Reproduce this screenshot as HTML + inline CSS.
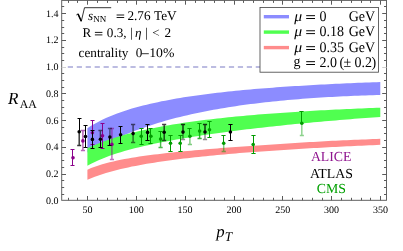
<!DOCTYPE html>
<html><head><meta charset="utf-8"><title>RAA</title>
<style>
html,body{margin:0;padding:0;background:#fff;}
body{width:403px;height:251px;overflow:hidden;}
svg{display:block;will-change:transform;font-family:"Liberation Serif",serif;text-rendering:geometricPrecision;}
.tl{font-size:10px;fill:#000;}
.t{font-size:13.2px;fill:#000;}
.lg{font-size:14.0px;fill:#000;}
i,.it{font-style:italic;}
</style></head><body>
<svg width="403" height="251" viewBox="0 0 403 251">
<rect x="0" y="0" width="403" height="251" fill="#fff"/>
<!-- bands -->
<path d="M87.40,128.18 L91.11,125.81 L94.82,123.64 L98.52,121.64 L102.23,119.78 L105.94,118.05 L109.65,116.44 L113.35,114.93 L117.06,113.52 L120.77,112.18 L124.48,110.92 L128.18,109.74 L131.89,108.61 L135.60,107.54 L139.31,106.53 L143.01,105.57 L146.72,104.65 L150.43,103.77 L154.14,102.93 L157.84,102.13 L161.55,101.36 L165.26,100.63 L168.97,99.92 L172.67,99.25 L176.38,98.60 L180.09,97.97 L183.80,97.37 L187.51,96.79 L191.21,96.23 L194.92,95.69 L198.63,95.17 L202.34,94.67 L206.04,94.18 L209.75,93.71 L213.46,93.26 L217.17,92.82 L220.87,92.40 L224.58,91.99 L228.29,91.59 L232.00,91.20 L235.70,90.83 L239.41,90.46 L243.12,90.11 L246.83,89.77 L250.53,89.44 L254.24,89.12 L257.95,88.80 L261.66,88.50 L265.36,88.20 L269.07,87.91 L272.78,87.63 L276.49,87.36 L280.19,87.10 L283.90,86.84 L287.61,86.59 L291.32,86.35 L295.03,86.11 L298.73,85.88 L302.44,85.65 L306.15,85.43 L309.86,85.22 L313.56,85.01 L317.27,84.80 L320.98,84.61 L324.69,84.41 L328.39,84.22 L332.10,84.04 L335.81,83.86 L339.52,83.68 L343.22,83.51 L346.93,83.35 L350.64,83.18 L354.35,83.02 L358.05,82.87 L361.76,82.72 L365.47,82.57 L369.18,82.43 L372.88,82.29 L376.59,82.15 L380.30,82.01 L380.30,94.91 L376.59,95.02 L372.88,95.13 L369.18,95.25 L365.47,95.38 L361.76,95.52 L358.05,95.66 L354.35,95.81 L350.64,95.97 L346.93,96.14 L343.22,96.31 L339.52,96.50 L335.81,96.69 L332.10,96.89 L328.39,97.10 L324.69,97.32 L320.98,97.55 L317.27,97.79 L313.56,98.03 L309.86,98.29 L306.15,98.56 L302.44,98.84 L298.73,99.13 L295.03,99.44 L291.32,99.75 L287.61,100.08 L283.90,100.42 L280.19,100.77 L276.49,101.14 L272.78,101.51 L269.07,101.91 L265.36,102.31 L261.66,102.74 L257.95,103.17 L254.24,103.63 L250.53,104.10 L246.83,104.58 L243.12,105.08 L239.41,105.61 L235.70,106.15 L232.00,106.70 L228.29,107.28 L224.58,107.88 L220.87,108.50 L217.17,109.14 L213.46,109.80 L209.75,110.49 L206.04,111.20 L202.34,111.94 L198.63,112.70 L194.92,113.48 L191.21,114.30 L187.51,115.14 L183.80,116.02 L180.09,116.92 L176.38,117.85 L172.67,118.82 L168.97,119.83 L165.26,120.86 L161.55,121.94 L157.84,123.05 L154.14,124.20 L150.43,125.39 L146.72,126.63 L143.01,127.91 L139.31,129.23 L135.60,130.60 L131.89,132.02 L128.18,133.48 L124.48,135.00 L120.77,136.56 L117.06,138.18 L113.35,139.84 L109.65,141.55 L105.94,143.31 L102.23,145.11 L98.52,146.94 L94.82,148.80 L91.11,150.67 L87.40,152.53Z" fill="#8c8cff"/>
<path d="M87.40,148.25 L91.11,146.54 L94.82,144.94 L98.52,143.42 L102.23,142.00 L105.94,140.65 L109.65,139.37 L113.35,138.16 L117.06,137.00 L120.77,135.90 L124.48,134.85 L128.18,133.85 L131.89,132.90 L135.60,131.98 L139.31,131.10 L143.01,130.26 L146.72,129.46 L150.43,128.68 L154.14,127.93 L157.84,127.22 L161.55,126.52 L165.26,125.86 L168.97,125.21 L172.67,124.59 L176.38,123.99 L180.09,123.41 L183.80,122.85 L187.51,122.31 L191.21,121.79 L194.92,121.28 L198.63,120.79 L202.34,120.31 L206.04,119.85 L209.75,119.40 L213.46,118.96 L217.17,118.54 L220.87,118.13 L224.58,117.73 L228.29,117.34 L232.00,116.97 L235.70,116.60 L239.41,116.24 L243.12,115.90 L246.83,115.56 L250.53,115.23 L254.24,114.91 L257.95,114.60 L261.66,114.30 L265.36,114.00 L269.07,113.72 L272.78,113.44 L276.49,113.16 L280.19,112.90 L283.90,112.64 L287.61,112.38 L291.32,112.14 L295.03,111.90 L298.73,111.66 L302.44,111.43 L306.15,111.21 L309.86,110.99 L313.56,110.78 L317.27,110.57 L320.98,110.37 L324.69,110.17 L328.39,109.97 L332.10,109.78 L335.81,109.60 L339.52,109.42 L343.22,109.24 L346.93,109.07 L350.64,108.90 L354.35,108.74 L358.05,108.58 L361.76,108.42 L365.47,108.27 L369.18,108.12 L372.88,107.97 L376.59,107.83 L380.30,107.69 L380.30,116.89 L376.59,117.17 L372.88,117.44 L369.18,117.72 L365.47,118.00 L361.76,118.29 L358.05,118.58 L354.35,118.87 L350.64,119.17 L346.93,119.47 L343.22,119.77 L339.52,120.08 L335.81,120.39 L332.10,120.71 L328.39,121.03 L324.69,121.36 L320.98,121.69 L317.27,122.02 L313.56,122.36 L309.86,122.70 L306.15,123.05 L302.44,123.40 L298.73,123.76 L295.03,124.12 L291.32,124.49 L287.61,124.86 L283.90,125.24 L280.19,125.63 L276.49,126.02 L272.78,126.41 L269.07,126.82 L265.36,127.23 L261.66,127.64 L257.95,128.06 L254.24,128.49 L250.53,128.93 L246.83,129.37 L243.12,129.82 L239.41,130.28 L235.70,130.74 L232.00,131.22 L228.29,131.70 L224.58,132.19 L220.87,132.69 L217.17,133.20 L213.46,133.72 L209.75,134.24 L206.04,134.78 L202.34,135.33 L198.63,135.89 L194.92,136.47 L191.21,137.06 L187.51,137.66 L183.80,138.27 L180.09,138.90 L176.38,139.55 L172.67,140.21 L168.97,140.90 L165.26,141.60 L161.55,142.32 L157.84,143.06 L154.14,143.83 L150.43,144.63 L146.72,145.45 L143.01,146.30 L139.31,147.18 L135.60,148.10 L131.89,149.06 L128.18,150.06 L124.48,151.11 L120.77,152.20 L117.06,153.35 L113.35,154.57 L109.65,155.86 L105.94,157.22 L102.23,158.68 L98.52,160.23 L94.82,161.91 L91.11,163.72 L87.40,165.70Z" fill="#50ff50"/>
<path d="M87.40,169.64 L91.11,168.06 L94.82,166.66 L98.52,165.40 L102.23,164.26 L105.94,163.22 L109.65,162.26 L113.35,161.38 L117.06,160.56 L120.77,159.80 L124.48,159.09 L128.18,158.42 L131.89,157.79 L135.60,157.19 L139.31,156.62 L143.01,156.08 L146.72,155.56 L150.43,155.07 L154.14,154.59 L157.84,154.14 L161.55,153.70 L165.26,153.28 L168.97,152.87 L172.67,152.47 L176.38,152.08 L180.09,151.71 L183.80,151.34 L187.51,150.99 L191.21,150.64 L194.92,150.31 L198.63,149.97 L202.34,149.65 L206.04,149.33 L209.75,149.02 L213.46,148.72 L217.17,148.42 L220.87,148.12 L224.58,147.84 L228.29,147.55 L232.00,147.27 L235.70,146.99 L239.41,146.72 L243.12,146.45 L246.83,146.19 L250.53,145.92 L254.24,145.66 L257.95,145.41 L261.66,145.16 L265.36,144.91 L269.07,144.66 L272.78,144.41 L276.49,144.17 L280.19,143.93 L283.90,143.69 L287.61,143.46 L291.32,143.22 L295.03,142.99 L298.73,142.76 L302.44,142.54 L306.15,142.32 L309.86,142.10 L313.56,141.88 L317.27,141.67 L320.98,141.46 L324.69,141.26 L328.39,141.06 L332.10,140.87 L335.81,140.68 L339.52,140.50 L343.22,140.32 L346.93,140.15 L350.64,139.98 L354.35,139.82 L358.05,139.67 L361.76,139.52 L365.47,139.38 L369.18,139.24 L372.88,139.11 L376.59,138.98 L380.30,138.87 L380.30,144.82 L376.59,144.98 L372.88,145.15 L369.18,145.31 L365.47,145.48 L361.76,145.65 L358.05,145.83 L354.35,146.00 L350.64,146.18 L346.93,146.36 L343.22,146.55 L339.52,146.73 L335.81,146.92 L332.10,147.11 L328.39,147.31 L324.69,147.51 L320.98,147.71 L317.27,147.91 L313.56,148.12 L309.86,148.33 L306.15,148.54 L302.44,148.76 L298.73,148.98 L295.03,149.20 L291.32,149.43 L287.61,149.66 L283.90,149.90 L280.19,150.14 L276.49,150.39 L272.78,150.63 L269.07,150.89 L265.36,151.15 L261.66,151.41 L257.95,151.68 L254.24,151.96 L250.53,152.24 L246.83,152.52 L243.12,152.82 L239.41,153.11 L235.70,153.42 L232.00,153.73 L228.29,154.05 L224.58,154.38 L220.87,154.71 L217.17,155.05 L213.46,155.41 L209.75,155.77 L206.04,156.14 L202.34,156.52 L198.63,156.91 L194.92,157.31 L191.21,157.72 L187.51,158.14 L183.80,158.58 L180.09,159.03 L176.38,159.50 L172.67,159.98 L168.97,160.47 L165.26,160.99 L161.55,161.52 L157.84,162.07 L154.14,162.64 L150.43,163.24 L146.72,163.86 L143.01,164.50 L139.31,165.18 L135.60,165.88 L131.89,166.62 L128.18,167.39 L124.48,168.20 L120.77,169.06 L117.06,169.96 L113.35,170.92 L109.65,171.93 L105.94,173.02 L102.23,174.17 L98.52,175.41 L94.82,176.75 L91.11,178.20 L87.40,179.78Z" fill="#ff8c8c"/>
<!-- dashed unity line -->
<path d="M67.8,67.1H262" stroke="#a6a6d8" stroke-width="1.5" stroke-dasharray="5.2 3.75" fill="none"/>
<!-- data -->
<path d="M70.5,149.5H74.5M72.5,149.4V157.7" stroke="#8b008b" stroke-width="1.0" fill="none"/>
<path d="M70.5,165.5H74.5M72.5,157.7V165.7" stroke="#8b008b" stroke-width="1.0" fill="none"/>
<circle cx="73.0" cy="157.7" r="1.8" fill="#8b008b"/>
<path d="M80.9,130.5H85.0M82.9,130.5V140.9" stroke="#8b008b" stroke-width="1.45" fill="none" opacity="0.65"/>
<path d="M80.9,150.5H85.0M82.9,140.9V151.0" stroke="#8b008b" stroke-width="1.45" fill="none" opacity="0.6"/>
<circle cx="82.9" cy="140.9" r="1.8" fill="#8b008b"/>
<path d="M90.5,120.5H94.5M92.5,120.6V132.8" stroke="#8b008b" stroke-width="1.0" fill="none"/>
<path d="M90.5,144.5H94.5M92.5,132.8V145.0" stroke="#8b008b" stroke-width="1.0" fill="none"/>
<circle cx="92.4" cy="132.8" r="1.8" fill="#8b008b"/>
<path d="M100.5,123.5H104.5M102.5,123.2V135.7" stroke="#8b008b" stroke-width="1.0" fill="none"/>
<path d="M100.5,148.5H104.5M102.5,135.7V148.2" stroke="#8b008b" stroke-width="1.0" fill="none"/>
<circle cx="102.5" cy="135.7" r="1.8" fill="#8b008b"/>
<path d="M109.9,128.5H114.0M111.9,128.7V144.4" stroke="#8b008b" stroke-width="1.45" fill="none" opacity="0.55"/>
<path d="M109.9,159.5H114.0M111.9,144.4V159.8" stroke="#8b008b" stroke-width="1.45" fill="none" opacity="0.55"/>
<circle cx="111.9" cy="144.4" r="1.8" fill="#8b008b"/>
<path d="M139.4,128.5H143.6M141.5,128.5V136.3" stroke="#009c00" stroke-width="1.0" fill="none"/>
<path d="M139.4,144.5H143.6M141.5,136.3V144.0" stroke="#009c00" stroke-width="1.0" fill="none"/>
<circle cx="141.2" cy="136.3" r="1.8" fill="#009c00"/>
<path d="M148.4,128.5H152.6M150.5,128.6V136.3" stroke="#009c00" stroke-width="1.0" fill="none"/>
<path d="M148.4,143.5H152.6M150.5,136.3V143.8" stroke="#009c00" stroke-width="1.0" fill="none"/>
<circle cx="150.9" cy="136.3" r="1.8" fill="#009c00"/>
<path d="M158.4,131.5H162.6M160.5,131.2V139.1" stroke="#009c00" stroke-width="1.0" fill="none"/>
<path d="M158.5,147.5H162.7M160.6,139.1V147.3" stroke="#009c00" stroke-width="1.45" fill="none" opacity="0.7"/>
<circle cx="160.6" cy="139.1" r="1.8" fill="#009c00"/>
<path d="M168.4,135.5H172.6M170.5,135.3V143.2" stroke="#009c00" stroke-width="1.0" fill="none"/>
<path d="M168.4,151.5H172.6M170.5,143.2V151.4" stroke="#009c00" stroke-width="1.0" fill="none"/>
<circle cx="170.5" cy="143.2" r="1.8" fill="#009c00"/>
<path d="M178.4,135.5H182.6M180.5,135.4V143.2" stroke="#009c00" stroke-width="1.0" fill="none"/>
<path d="M178.4,151.5H182.6M180.5,143.2V151.2" stroke="#009c00" stroke-width="1.0" fill="none"/>
<circle cx="180.2" cy="143.2" r="1.8" fill="#009c00"/>
<path d="M187.4,128.5H191.6M189.5,128.8V136.2" stroke="#009c00" stroke-width="1.0" fill="none"/>
<path d="M187.8,144.5H192.0M189.9,136.2V144.4" stroke="#009c00" stroke-width="1.45" fill="none" opacity="0.5"/>
<circle cx="189.9" cy="136.2" r="1.8" fill="#009c00"/>
<path d="M197.4,123.5H201.6M199.5,123.5V131.1" stroke="#009c00" stroke-width="1.0" fill="none"/>
<path d="M197.5,138.5H201.7M199.6,131.1V139.0" stroke="#009c00" stroke-width="1.45" fill="none" opacity="0.8"/>
<circle cx="199.6" cy="131.1" r="1.8" fill="#009c00"/>
<path d="M207.4,121.5H211.6M209.5,121.6V129.8" stroke="#009c00" stroke-width="1.0" fill="none"/>
<path d="M207.4,137.5H211.6M209.5,129.8V137.7" stroke="#009c00" stroke-width="1.0" fill="none"/>
<circle cx="209.5" cy="129.8" r="1.8" fill="#009c00"/>
<path d="M221.4,135.5H225.6M223.5,135.3V143.3" stroke="#009c00" stroke-width="1.0" fill="none"/>
<path d="M221.6,151.5H225.8M223.7,143.3V151.2" stroke="#009c00" stroke-width="1.45" fill="none" opacity="0.5"/>
<circle cx="223.7" cy="143.3" r="1.8" fill="#009c00"/>
<path d="M251.4,135.5H255.6M253.5,135.3V144.5" stroke="#009c00" stroke-width="1.0" fill="none"/>
<path d="M251.4,153.5H255.6M253.5,144.5V153.9" stroke="#009c00" stroke-width="1.0" fill="none"/>
<circle cx="253.2" cy="144.5" r="1.8" fill="#009c00"/>
<path d="M299.4,111.5H303.6M301.5,111.3V123.3" stroke="#009c00" stroke-width="1.0" fill="none"/>
<path d="M299.8,135.5H303.9M301.8,123.3V135.4" stroke="#009c00" stroke-width="1.45" fill="none" opacity="0.45"/>
<circle cx="301.8" cy="123.3" r="1.8" fill="#009c00"/>
<path d="M77.5,118.5H81.5M79.5,118.5V131.7" stroke="#000" stroke-width="1.0" fill="none"/>
<path d="M77.2,145.5H81.2M79.2,131.7V145.2" stroke="#000" stroke-width="1.45" fill="none" opacity="0.8"/>
<circle cx="79.2" cy="131.7" r="1.8" fill="#000"/>
<path d="M83.5,125.5H87.5M85.5,125.6V136.6" stroke="#000" stroke-width="1.0" fill="none"/>
<path d="M83.5,147.5H87.5M85.5,136.6V147.6" stroke="#000" stroke-width="1.0" fill="none"/>
<circle cx="85.5" cy="136.6" r="1.8" fill="#000"/>
<path d="M90.5,130.5H94.5M92.5,130.5V139.4" stroke="#000" stroke-width="1.0" fill="none"/>
<path d="M90.5,148.5H94.5M92.5,139.4V148.2" stroke="#000" stroke-width="1.0" fill="none"/>
<circle cx="92.4" cy="139.4" r="1.8" fill="#000"/>
<path d="M98.4,130.5H102.5M100.4,130.9V139.3" stroke="#000" stroke-width="1.45" fill="none" opacity="0.6"/>
<path d="M98.5,147.5H102.5M100.5,139.3V147.3" stroke="#000" stroke-width="1.0" fill="none"/>
<circle cx="100.4" cy="139.3" r="1.8" fill="#000"/>
<path d="M107.9,128.5H112.0M109.9,128.6V137.1" stroke="#000" stroke-width="1.45" fill="none" opacity="0.5"/>
<path d="M107.5,145.5H111.5M109.5,137.1V145.2" stroke="#000" stroke-width="1.0" fill="none"/>
<circle cx="109.9" cy="137.1" r="1.8" fill="#000"/>
<path d="M118.5,126.5H122.5M120.5,126.4V134.8" stroke="#000" stroke-width="1.0" fill="none"/>
<path d="M118.5,143.5H122.5M120.5,134.8V143.3" stroke="#000" stroke-width="1.0" fill="none"/>
<circle cx="120.6" cy="134.8" r="1.8" fill="#000"/>
<path d="M131.0,124.5H135.2M133.1,125.0V133.6" stroke="#000" stroke-width="1.45" fill="none" opacity="0.6"/>
<path d="M131.0,142.5H135.2M133.1,133.6V142.2" stroke="#000" stroke-width="1.45" fill="none" opacity="0.55"/>
<circle cx="133.1" cy="133.6" r="1.8" fill="#000"/>
<path d="M145.4,124.5H149.6M147.5,124.6V132.4" stroke="#000" stroke-width="1.0" fill="none"/>
<path d="M145.4,140.5H149.6M147.5,132.4V140.4" stroke="#000" stroke-width="1.0" fill="none"/>
<circle cx="147.6" cy="132.4" r="1.8" fill="#000"/>
<path d="M162.1,124.5H166.2M164.2,124.6V132.3" stroke="#000" stroke-width="1.45" fill="none" opacity="0.75"/>
<path d="M162.1,140.5H166.2M164.2,132.3V140.4" stroke="#000" stroke-width="1.45" fill="none" opacity="0.7"/>
<circle cx="164.2" cy="132.3" r="1.8" fill="#000"/>
<path d="M180.9,124.5H185.1M183.0,124.5V132.1" stroke="#000" stroke-width="1.45" fill="none" opacity="0.8"/>
<path d="M180.9,139.5H185.1M183.0,132.1V139.9" stroke="#000" stroke-width="1.45" fill="none" opacity="0.45"/>
<circle cx="183.0" cy="132.1" r="1.8" fill="#000"/>
<path d="M202.9,124.5H207.1M205.0,124.2V132.0" stroke="#000" stroke-width="1.45" fill="none" opacity="0.8"/>
<path d="M202.9,139.5H207.1M205.0,132.0V139.9" stroke="#000" stroke-width="1.45" fill="none" opacity="0.45"/>
<circle cx="205.0" cy="132.0" r="1.8" fill="#000"/>
<path d="M228.4,124.5H232.6M230.5,124.4V132.0" stroke="#000" stroke-width="1.0" fill="none"/>
<path d="M228.4,140.5H232.6M230.5,132.0V140.2" stroke="#000" stroke-width="1.0" fill="none"/>
<circle cx="230.4" cy="132.0" r="1.8" fill="#000"/>
<!-- frame -->
<rect x="61.7" y="0.4" width="324.8" height="199.9" fill="none" stroke="#5a5a5a" stroke-width="0.95"/>
<path d="M61.7,194.50h2.5M386.5,194.50h-2.5" stroke="#5a5a5a" stroke-width="1"/>
<path d="M61.7,187.50h2.5M386.5,187.50h-2.5" stroke="#5a5a5a" stroke-width="1"/>
<path d="M61.7,180.50h2.5M386.5,180.50h-2.5" stroke="#5a5a5a" stroke-width="1"/>
<path d="M61.7,174.50h4.3M386.5,174.50h-4.3" stroke="#5a5a5a" stroke-width="1"/>
<path d="M61.7,167.50h2.5M386.5,167.50h-2.5" stroke="#5a5a5a" stroke-width="1"/>
<path d="M61.7,160.50h2.5M386.5,160.50h-2.5" stroke="#5a5a5a" stroke-width="1"/>
<path d="M61.7,153.50h2.5M386.5,153.50h-2.5" stroke="#5a5a5a" stroke-width="1"/>
<path d="M61.7,147.50h4.3M386.5,147.50h-4.3" stroke="#5a5a5a" stroke-width="1"/>
<path d="M61.7,140.50h2.5M386.5,140.50h-2.5" stroke="#5a5a5a" stroke-width="1"/>
<path d="M61.7,133.50h2.5M386.5,133.50h-2.5" stroke="#5a5a5a" stroke-width="1"/>
<path d="M61.7,127.50h2.5M386.5,127.50h-2.5" stroke="#5a5a5a" stroke-width="1"/>
<path d="M61.7,120.50h4.3M386.5,120.50h-4.3" stroke="#5a5a5a" stroke-width="1"/>
<path d="M61.7,113.50h2.5M386.5,113.50h-2.5" stroke="#5a5a5a" stroke-width="1"/>
<path d="M61.7,107.50h2.5M386.5,107.50h-2.5" stroke="#5a5a5a" stroke-width="1"/>
<path d="M61.7,100.50h2.5M386.5,100.50h-2.5" stroke="#5a5a5a" stroke-width="1"/>
<path d="M61.7,93.50h4.3M386.5,93.50h-4.3" stroke="#5a5a5a" stroke-width="1"/>
<path d="M61.7,87.50h2.5M386.5,87.50h-2.5" stroke="#5a5a5a" stroke-width="1"/>
<path d="M61.7,80.50h2.5M386.5,80.50h-2.5" stroke="#5a5a5a" stroke-width="1"/>
<path d="M61.7,73.50h2.5M386.5,73.50h-2.5" stroke="#5a5a5a" stroke-width="1"/>
<path d="M61.7,67.50h4.3" stroke="#cfcfcf" stroke-width="1"/>
<path d="M386.5,67.50h-4.3" stroke="#cfcfcf" stroke-width="1"/>
<path d="M61.7,60.50h2.5M386.5,60.50h-2.5" stroke="#5a5a5a" stroke-width="1"/>
<path d="M61.7,53.50h2.5M386.5,53.50h-2.5" stroke="#5a5a5a" stroke-width="1"/>
<path d="M61.7,47.50h2.5M386.5,47.50h-2.5" stroke="#5a5a5a" stroke-width="1"/>
<path d="M61.7,40.50h4.3M386.5,40.50h-4.3" stroke="#5a5a5a" stroke-width="1"/>
<path d="M61.7,33.50h2.5M386.5,33.50h-2.5" stroke="#5a5a5a" stroke-width="1"/>
<path d="M61.7,27.50h2.5M386.5,27.50h-2.5" stroke="#5a5a5a" stroke-width="1"/>
<path d="M61.7,20.50h2.5M386.5,20.50h-2.5" stroke="#5a5a5a" stroke-width="1"/>
<path d="M61.7,13.50h4.3M386.5,13.50h-4.3" stroke="#5a5a5a" stroke-width="1"/>
<path d="M61.7,6.50h2.5M386.5,6.50h-2.5" stroke="#5a5a5a" stroke-width="1"/>
<path d="M68.50,200.3v-2.5M68.50,0.4v2.5" stroke="#5a5a5a" stroke-width="1"/>
<path d="M77.50,200.3v-2.5M77.50,0.4v2.5" stroke="#5a5a5a" stroke-width="1"/>
<path d="M87.50,200.3v-4.3M87.50,0.4v4.3" stroke="#5a5a5a" stroke-width="1"/>
<path d="M97.50,200.3v-2.5M97.50,0.4v2.5" stroke="#5a5a5a" stroke-width="1"/>
<path d="M107.50,200.3v-2.5M107.50,0.4v2.5" stroke="#5a5a5a" stroke-width="1"/>
<path d="M117.50,200.3v-2.5M117.50,0.4v2.5" stroke="#5a5a5a" stroke-width="1"/>
<path d="M126.50,200.3v-2.5M126.50,0.4v2.5" stroke="#5a5a5a" stroke-width="1"/>
<path d="M136.50,200.3v-4.3M136.50,0.4v4.3" stroke="#5a5a5a" stroke-width="1"/>
<path d="M146.50,200.3v-2.5M146.50,0.4v2.5" stroke="#5a5a5a" stroke-width="1"/>
<path d="M156.50,200.3v-2.5M156.50,0.4v2.5" stroke="#5a5a5a" stroke-width="1"/>
<path d="M165.50,200.3v-2.5M165.50,0.4v2.5" stroke="#5a5a5a" stroke-width="1"/>
<path d="M175.50,200.3v-2.5M175.50,0.4v2.5" stroke="#5a5a5a" stroke-width="1"/>
<path d="M185.50,200.3v-4.3M185.50,0.4v4.3" stroke="#5a5a5a" stroke-width="1"/>
<path d="M195.50,200.3v-2.5M195.50,0.4v2.5" stroke="#5a5a5a" stroke-width="1"/>
<path d="M204.50,200.3v-2.5M204.50,0.4v2.5" stroke="#5a5a5a" stroke-width="1"/>
<path d="M214.50,200.3v-2.5M214.50,0.4v2.5" stroke="#5a5a5a" stroke-width="1"/>
<path d="M224.50,200.3v-2.5M224.50,0.4v2.5" stroke="#5a5a5a" stroke-width="1"/>
<path d="M234.50,200.3v-4.3M234.50,0.4v4.3" stroke="#5a5a5a" stroke-width="1"/>
<path d="M243.50,200.3v-2.5M243.50,0.4v2.5" stroke="#5a5a5a" stroke-width="1"/>
<path d="M253.50,200.3v-2.5M253.50,0.4v2.5" stroke="#5a5a5a" stroke-width="1"/>
<path d="M263.50,200.3v-2.5M263.50,0.4v2.5" stroke="#5a5a5a" stroke-width="1"/>
<path d="M273.50,200.3v-2.5M273.50,0.4v2.5" stroke="#5a5a5a" stroke-width="1"/>
<path d="M282.50,200.3v-4.3M282.50,0.4v4.3" stroke="#5a5a5a" stroke-width="1"/>
<path d="M292.50,200.3v-2.5M292.50,0.4v2.5" stroke="#5a5a5a" stroke-width="1"/>
<path d="M302.50,200.3v-2.5M302.50,0.4v2.5" stroke="#5a5a5a" stroke-width="1"/>
<path d="M312.50,200.3v-2.5M312.50,0.4v2.5" stroke="#5a5a5a" stroke-width="1"/>
<path d="M322.50,200.3v-2.5M322.50,0.4v2.5" stroke="#5a5a5a" stroke-width="1"/>
<path d="M331.50,200.3v-4.3M331.50,0.4v4.3" stroke="#5a5a5a" stroke-width="1"/>
<path d="M341.50,200.3v-2.5M341.50,0.4v2.5" stroke="#5a5a5a" stroke-width="1"/>
<path d="M351.50,200.3v-2.5M351.50,0.4v2.5" stroke="#5a5a5a" stroke-width="1"/>
<path d="M361.50,200.3v-2.5M361.50,0.4v2.5" stroke="#5a5a5a" stroke-width="1"/>
<path d="M370.50,200.3v-2.5M370.50,0.4v2.5" stroke="#5a5a5a" stroke-width="1"/>
<path d="M380.50,200.3v-4.3M380.50,0.4v4.3" stroke="#5a5a5a" stroke-width="1"/>
<text x="58.4" y="203.8" text-anchor="end" class="tl">0.0</text><text x="58.4" y="177.1" text-anchor="end" class="tl">0.2</text><text x="58.4" y="150.3" text-anchor="end" class="tl">0.4</text><text x="58.4" y="123.6" text-anchor="end" class="tl">0.6</text><text x="58.4" y="96.9" text-anchor="end" class="tl">0.8</text><text x="58.4" y="70.2" text-anchor="end" class="tl">1.0</text><text x="58.4" y="43.4" text-anchor="end" class="tl">1.2</text><text x="58.4" y="16.7" text-anchor="end" class="tl">1.4</text>
<text x="87.4" y="213.3" text-anchor="middle" class="tl">50</text><text x="136.2" y="213.3" text-anchor="middle" class="tl">100</text><text x="185.1" y="213.3" text-anchor="middle" class="tl">150</text><text x="233.9" y="213.3" text-anchor="middle" class="tl">200</text><text x="282.7" y="213.3" text-anchor="middle" class="tl">250</text><text x="331.6" y="213.3" text-anchor="middle" class="tl">300</text><text x="380.4" y="213.3" text-anchor="middle" class="tl">350</text>
<!-- axis labels -->
<text x="8.0" y="104.4" font-size="17px" class="it">R</text>
<text x="19.8" y="107.7" font-size="11.8px">AA</text>
<text x="216.2" y="236.8" font-size="16.8px" class="it">p</text>
<text x="224.8" y="240.8" font-size="13.3px" class="it">T</text>
<!-- annotation -->
<path d="M76.3,15.0L78.0,13.9L81.3,21.2L84.5,7.7H111.2" stroke="#000" stroke-width="0.8" fill="none" stroke-linejoin="miter"/>
<path d="M78.0,13.9L81.3,21.2" stroke="#000" stroke-width="1.5" fill="none"/>
<text x="87.9" y="20.0" class="t it">s</text>
<text x="93.2" y="22.4" font-size="9px">NN</text>
<path d="M116.6,15.00h7.6M116.6,17.50h7.6" stroke="#000" stroke-width="0.9" fill="none"/>
<text x="127.4" y="20.0" class="t">2.76</text>
<text x="154.0" y="20.0" class="t">TeV</text>
<text x="82.6" y="37.4" class="t">R</text>
<path d="M94.9,32.40h7.5M94.9,34.90h7.5" stroke="#000" stroke-width="0.9" fill="none"/>
<text x="106.8" y="37.4" class="t">0.3,</text>
<text x="130.3" y="37.4" class="t">|</text>
<text x="135" y="37.4" class="t it">η</text>
<text x="145.3" y="37.4" class="t">|</text>
<text x="152.2" y="37.4" class="t">&lt;</text>
<text x="164.4" y="37.4" class="t">2</text>
<text x="78.6" y="57.2" class="t">centrality</text>
<text x="135.8" y="57.2" class="t">0</text>
<path d="M141.5,53.7H148.8" stroke="#000" stroke-width="0.8"/>
<text x="149.2" y="57.2" class="t" textLength="25.2" lengthAdjust="spacingAndGlyphs">10%</text>
<!-- legend -->
<rect x="260" y="7.5" width="118.5" height="64.7" fill="#fff" stroke="#4a4a4a" stroke-width="0.85"/>
<path d="M263.8,16.7H289" stroke="#8c8cff" stroke-width="3.4"/>
<path d="M263.8,32.1H289" stroke="#50ff50" stroke-width="3.4"/>
<path d="M263.8,47.6H289" stroke="#ff8c8c" stroke-width="3.4"/>
<g transform="translate(0,20.5) scale(1,1.05) translate(0,-20.5)"><text x="294.2" y="20.5" class="lg it" textLength="7.9" lengthAdjust="spacingAndGlyphs">μ</text><path d="M306.2,15.90h8.8M306.2,18.60h8.8" stroke="#000" stroke-width="0.95" fill="none"/><text x="319.5" y="20.5" class="lg">0</text><text x="348.7" y="20.5" class="lg">GeV</text></g><g transform="translate(0,35.6) scale(1,1.05) translate(0,-35.6)"><text x="294.2" y="35.6" class="lg it" textLength="7.9" lengthAdjust="spacingAndGlyphs">μ</text><path d="M306.2,31.00h8.8M306.2,33.70h8.8" stroke="#000" stroke-width="0.95" fill="none"/><text x="319.5" y="35.6" class="lg">0.18</text><text x="348.7" y="35.6" class="lg">GeV</text></g><g transform="translate(0,51.5) scale(1,1.05) translate(0,-51.5)"><text x="294.2" y="51.5" class="lg it" textLength="7.9" lengthAdjust="spacingAndGlyphs">μ</text><path d="M306.2,46.90h8.8M306.2,49.60h8.8" stroke="#000" stroke-width="0.95" fill="none"/><text x="319.5" y="51.5" class="lg">0.35</text><text x="348.7" y="51.5" class="lg">GeV</text></g><g transform="translate(0,66.5) scale(1,1.05) translate(0,-66.5)"><text x="293.6" y="66.2" class="lg">g</text><path d="M306.2,61.90h8.8M306.2,64.60h8.8" stroke="#000" stroke-width="0.95" fill="none"/><text x="319.5" y="66.5" class="lg">2.0</text><text x="339.4" y="66.5" class="lg">(</text><text x="343.6" y="66.5" class="lg">±</text><text x="354.6" y="66.5" class="lg">0.2</text><text x="371.6" y="66.5" class="lg">)</text></g>
<!-- experiment labels -->
<text x="331.2" y="161.3" text-anchor="middle" font-size="13.8px" fill="#8f148f">ALICE</text>
<text x="331.4" y="177.7" text-anchor="middle" font-size="13.8px" fill="#000">ATLAS</text>
<text x="331.4" y="192.7" text-anchor="middle" font-size="13.8px" fill="#00a000">CMS</text>
</svg>
</body></html>
